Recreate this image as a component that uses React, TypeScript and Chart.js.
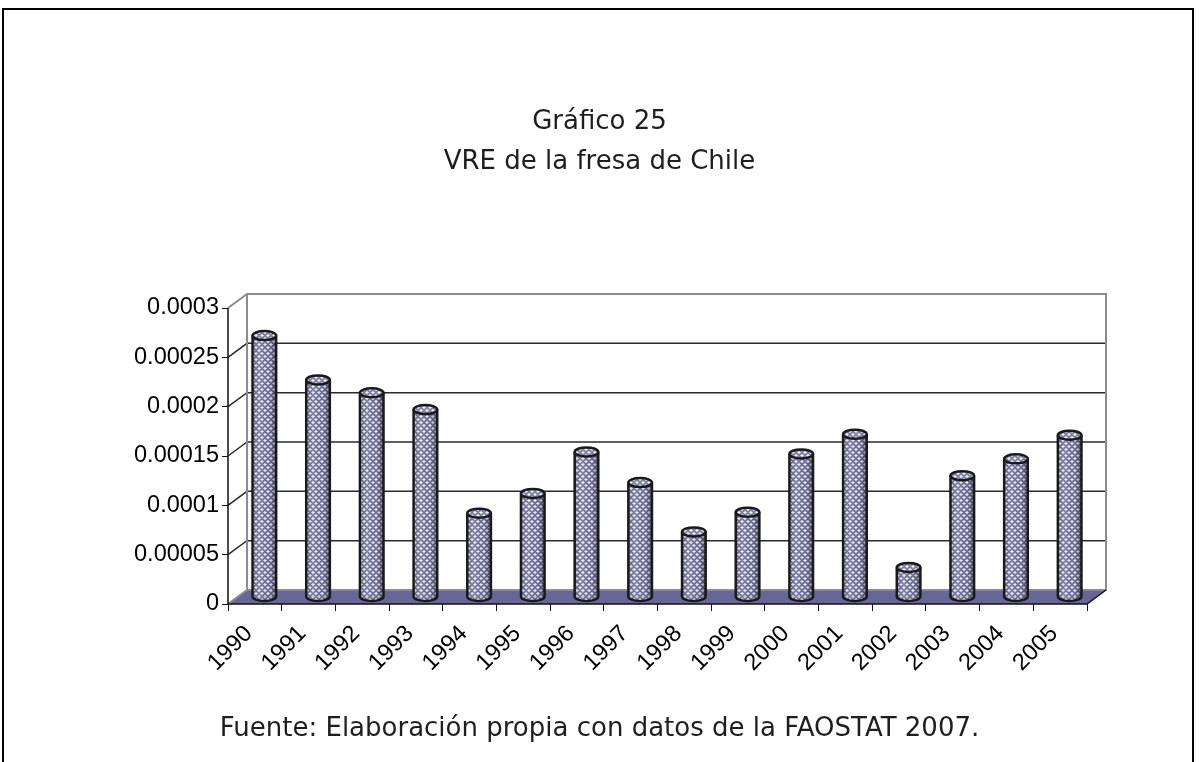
import React, { useEffect, useRef } from 'react';
import { Chart, registerables } from 'chart.js';

Chart.register(...registerables);

const years = ['1990', '1991', '1992', '1993', '1994', '1995', '1996', '1997', '1998', '1999', '2000', '2001', '2002', '2003', '2004', '2005'];
const vre = [0.000265, 0.00022, 0.000207, 0.00019, 0.000085, 0.000105, 0.000147, 0.000116, 0.000066, 0.000086, 0.000145, 0.000165, 0.00003, 0.000123, 0.00014, 0.000164];
const yTicks = [0, 0.00005, 0.0001, 0.00015, 0.0002, 0.00025, 0.0003];
const titleLines = ['Gráfico 25', 'VRE de la fresa de Chile'];
const sourceNote = 'Fuente: Elaboración propia con datos de la FAOSTAT 2007.';

const W = 1199;
const H = 762;
const DX = 19;
const DY = -14;

function makePattern(ctx: CanvasRenderingContext2D) {
  const map = ['WWLDLW', 'WLDLDL', 'LDLWLD', 'DLWWWL', 'LDLWLD', 'WLDLDL'];
  const n = map.length;
  const c = document.createElement('canvas');
  c.width = n;
  c.height = n;
  const p = c.getContext('2d')!;
  const col: Record<string, string> = { D: '#4a4a7a', L: '#9494b8', W: '#eeeef5' };
  for (let r = 0; r < n; r++) {
    for (let k = 0; k < n; k++) {
      p.fillStyle = col[map[r][k]];
      p.fillRect(k, r, 1, 1);
    }
  }
  return ctx.createPattern(c, 'repeat')!;
}

export default function App() {
  const ref = useRef<HTMLCanvasElement | null>(null);

  useEffect(() => {
    const canvas = ref.current!;
    const ctx0 = canvas.getContext('2d')!;
    const pattern = makePattern(ctx0);

    const frame3d = {
      id: 'frame3d',
      beforeDatasetsDraw(chart: any) {
        const { ctx, chartArea } = chart;
        const ys = chart.scales.y;
        const L = chartArea.left, R = chartArea.right;
        const y0 = ys.getPixelForValue(0);
        const yTop = ys.getPixelForValue(yTicks[yTicks.length - 1]);
        ctx.save();
        ctx.fillStyle = '#666699';
        ctx.beginPath();
        ctx.moveTo(L, y0);
        ctx.lineTo(R, y0);
        ctx.lineTo(R + DX, y0 + DY);
        ctx.lineTo(L + DX, y0 + DY);
        ctx.closePath();
        ctx.fill();
        ctx.lineWidth = 1.5;
        ctx.strokeStyle = '#2a2a2a';
        for (const v of yTicks) {
          if (v === 0 || v === yTicks[yTicks.length - 1]) continue;
          const py = ys.getPixelForValue(v);
          ctx.beginPath();
          ctx.moveTo(L, py);
          ctx.lineTo(L + DX, py + DY);
          ctx.lineTo(R + DX, py + DY);
          ctx.stroke();
        }
        ctx.strokeStyle = '#8c8c8c';
        ctx.lineWidth = 2;
        ctx.beginPath();
        ctx.moveTo(L, yTop);
        ctx.lineTo(L + DX, yTop + DY);
        ctx.lineTo(R + DX, yTop + DY);
        ctx.lineTo(R + DX, y0 + DY);
        ctx.lineTo(L + DX, y0 + DY);
        ctx.lineTo(L, y0);
        ctx.moveTo(L + DX, yTop + DY);
        ctx.lineTo(L + DX, y0 + DY);
        ctx.stroke();
        ctx.strokeStyle = '#111';
        ctx.lineWidth = 1.5;
        ctx.beginPath();
        ctx.moveTo(L, yTop);
        ctx.lineTo(L, y0);
        ctx.lineTo(R, y0);
        ctx.lineTo(R + DX, y0 + DY);
        ctx.stroke();
        ctx.restore();
        ctx.save();
        ctx.translate(DX / 2, DY / 2);
      },
      afterDatasetsDraw(chart: any) {
        const { ctx } = chart;
        const meta = chart.getDatasetMeta(0);
        const ry = 4.5;
        for (const el of meta.data) {
          const { x, y, base, width } = el.getProps(['x', 'y', 'base', 'width'], true);
          const rx = width / 2;
          const l = x - rx, r = x + rx;
          ctx.fillStyle = pattern;
          ctx.beginPath();
          ctx.ellipse(x, base, rx, ry, 0, 0, Math.PI);
          ctx.fill();
          const g = ctx.createLinearGradient(l, 0, r, 0);
          g.addColorStop(0, 'rgba(0,0,0,0.1)');
          g.addColorStop(0.3, 'rgba(255,255,255,0.15)');
          g.addColorStop(0.7, 'rgba(0,0,0,0.0)');
          g.addColorStop(1, 'rgba(0,0,0,0.45)');
          ctx.fillStyle = g;
          ctx.beginPath();
          ctx.moveTo(l, y);
          ctx.lineTo(l, base);
          ctx.ellipse(x, base, rx, ry, 0, Math.PI, 0, true);
          ctx.lineTo(r, y);
          ctx.closePath();
          ctx.fill();
          ctx.strokeStyle = '#1a1a1a';
          ctx.lineWidth = 2.5;
          ctx.beginPath();
          ctx.moveTo(l, y);
          ctx.lineTo(l, base);
          ctx.ellipse(x, base, rx, ry, 0, Math.PI, 0, true);
          ctx.lineTo(r, y);
          ctx.stroke();
          ctx.fillStyle = pattern;
          ctx.beginPath();
          ctx.ellipse(x, y, rx, ry, 0, 0, Math.PI * 2);
          ctx.fill();
          ctx.fillStyle = 'rgba(255,255,255,0.12)';
          ctx.fill();
          ctx.stroke();
        }
        ctx.restore();
      },
    };

    const chart = new Chart(canvas, {
      type: 'bar',
      data: {
        labels: years,
        datasets: [
          {
            data: vre,
            backgroundColor: pattern as any,
            borderWidth: 0,
            barPercentage: 0.44,
            categoryPercentage: 1,
          },
        ],
      },
      options: {
        animation: false,
        responsive: false,
        maintainAspectRatio: false,
        layout: { padding: { left: 0, top: 308, right: W - 1087, bottom: 0 } },
        plugins: {
          legend: { display: false },
          tooltip: { enabled: false },
          title: { display: false },
        },
        scales: {
          x: {
            grid: { display: true, drawOnChartArea: false, drawTicks: true, tickLength: 7, tickColor: '#111', offset: true },
            border: { display: false },
            ticks: {
              minRotation: 45,
              maxRotation: 45,
              color: '#000',
              padding: 9,
              labelOffset: -6,
              font: { family: '"Liberation Sans", Arial, sans-serif', size: 23.5 },
            },
            afterFit: (s: any) => {
              s.height = H - 604;
            },
          },
          y: {
            min: 0,
            max: yTicks[yTicks.length - 1],
            afterBuildTicks: (s: any) => {
              s.ticks = yTicks.map((v) => ({ value: v }));
            },
            grid: { display: true, drawOnChartArea: false, drawTicks: true, tickLength: 6, tickColor: '#111' },
            border: { display: false },
            ticks: {
              color: '#000',
              padding: 3,
              font: { family: '"Liberation Sans", Arial, sans-serif', size: 23.5 },
              callback: (v: any) => String(Number(Number(v).toFixed(5))),
            },
            afterFit: (s: any) => {
              s.width = 228;
            },
          },
        },
      },
      plugins: [frame3d],
    });
    return () => chart.destroy();
  }, []);

  return (
    <div style={{ position: 'absolute', left: 0, top: 0, width: W, height: H, overflow: 'hidden', background: '#fff' }}>
      <canvas ref={ref} width={W} height={H} style={{ position: 'absolute', left: 0, top: 0, width: W, height: H }} />
      <div
        style={{
          position: 'absolute',
          left: 2,
          top: 8,
          width: 1192,
          height: H + 20,
          borderTop: '2px solid #000',
          borderLeft: '2px solid #000',
          borderRight: '2px solid #000',
          boxSizing: 'border-box',
          pointerEvents: 'none',
        }}
      />
      <div
        style={{
          position: 'absolute',
          left: 0,
          width: W,
          top: 100,
          textAlign: 'center',
          fontFamily: '"DejaVu Sans", Verdana, sans-serif',
          fontSize: 26,
          lineHeight: '40px',
          color: '#1e1e1e',
        }}
      >
        {titleLines.map((t) => (
          <div key={t}>{t}</div>
        ))}
      </div>
      <div
        style={{
          position: 'absolute',
          left: 0,
          width: W,
          top: 710,
          textAlign: 'center',
          fontFamily: '"DejaVu Sans", Verdana, sans-serif',
          fontSize: 26,
          lineHeight: '34px',
          color: '#1e1e1e',
        }}
      >
        {sourceNote}
      </div>
    </div>
  );
}
